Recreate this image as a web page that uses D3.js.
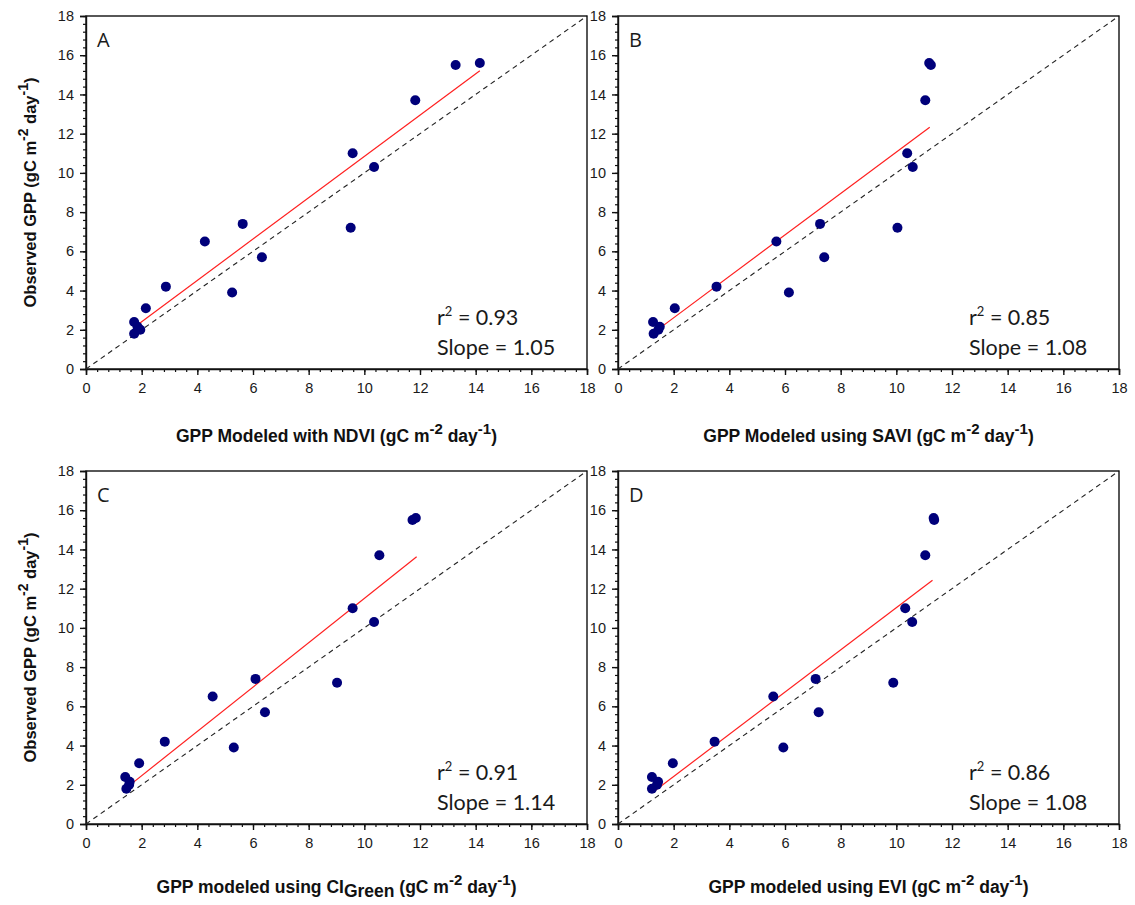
<!DOCTYPE html>
<html>
<head>
<meta charset="utf-8">
<script src="https://cdn.jsdelivr.net/npm/d3@7"></script>
<style>
  html, body { margin: 0; padding: 0; background: #fff; }
  svg { display: block; }
</style>
</head>
<body>
<svg id="chart" width="1135" height="905"></svg>
<script>
// ---------------- DATA ----------------
const observedGPP = [15.6, 15.5, 13.7, 11.0, 10.3, 7.2, 7.4, 6.5, 5.7, 3.9, 4.2, 3.1, 2.4, 2.15, 2.0, 1.8];
const modeledNDVI = [14.15, 13.28, 11.83, 9.58, 10.35, 9.51, 5.63, 4.27, 6.32, 5.25, 2.87, 2.15, 1.73, 1.85, 1.95, 1.73];
const modeledSAVI = [11.18, 11.24, 11.04, 10.39, 10.59, 10.04, 7.26, 5.69, 7.41, 6.14, 3.54, 2.04, 1.26, 1.50, 1.45, 1.28];
const modeledCIGreen = [11.85, 11.73, 10.54, 9.58, 10.35, 9.02, 6.09, 4.55, 6.43, 5.31, 2.83, 1.91, 1.41, 1.57, 1.55, 1.45];
const modeledEVI = [11.34, 11.36, 11.04, 10.32, 10.57, 9.89, 7.10, 5.58, 7.21, 5.94, 3.47, 1.97, 1.22, 1.44, 1.40, 1.22];

// regression line endpoints [x, y] as drawn
const fitNDVI = [[1.77, 2.17], [14.15, 15.21]];
const fitSAVI = [[1.26, 1.83], [11.20, 12.33]];
const fitCIGreen = [[1.44, 1.83], [11.88, 13.63]];
const fitEVI = [[1.30, 1.67], [11.30, 12.43]];

const panelLetters = ["A", "B", "C", "D"];
const r2Values = ["0.93", "0.85", "0.91", "0.86"];
const slopeValues = ["1.05", "1.08", "1.14", "1.08"];
const indexNames = ["NDVI", "SAVI", "CI", "EVI"];
const xTitlePrefixes = ["GPP Modeled with ", "GPP Modeled using ", "GPP modeled using ", "GPP modeled using "];
const axisTicks = [0, 2, 4, 6, 8, 10, 12, 14, 16, 18];
const minorTicks = d3.range(0, 18.001, 0.4);
const oneToOne = [[0, 0], [18, 18]];

// ---------------- LAYOUT ----------------
const svg = d3.select("#chart");
const pw = 501, ph = 353;
const origins = [[86, 16], [618, 16], [86, 471], [618, 471]];
const modeled = [modeledNDVI, modeledSAVI, modeledCIGreen, modeledEVI];
const fits = [fitNDVI, fitSAVI, fitCIGreen, fitEVI];

const tickFont = "'Liberation Sans', Arial, sans-serif";
const textColor = "#1a1a1a";

panelLetters.forEach((letter, i) => {
  const [ox, oy] = origins[i];
  const g = svg.append("g").attr("transform", `translate(${ox},${oy})`);
  const x = d3.scaleLinear().domain([0, 18]).range([0, pw]);
  const y = d3.scaleLinear().domain([0, 18]).range([ph, 0]);

  // frame
  g.append("rect").attr("x", 0).attr("y", 0).attr("width", pw).attr("height", ph)
    .attr("fill", "none").attr("stroke", "#111").attr("stroke-width", 1.4);

  // minor ticks
  const xMinor = d3.axisBottom(x).tickValues(minorTicks).tickSize(3).tickFormat("");
  const yMinor = d3.axisLeft(y).tickValues(minorTicks).tickSize(3).tickFormat("");
  g.append("g").attr("transform", `translate(0,${ph})`).call(xMinor)
    .call(a => a.select(".domain").remove())
    .selectAll("line").attr("stroke", "#111").attr("stroke-width", 1.2);
  g.append("g").call(yMinor)
    .call(a => a.select(".domain").remove())
    .selectAll("line").attr("stroke", "#111").attr("stroke-width", 1.2);

  // major axes
  const xAxis = d3.axisBottom(x).tickValues(axisTicks).tickSize(6).tickPadding(8).tickFormat(d3.format("d"));
  const yAxis = d3.axisLeft(y).tickValues(axisTicks).tickSize(6).tickPadding(6).tickFormat(d3.format("d"));
  const gx = g.append("g").attr("transform", `translate(0,${ph})`).call(xAxis);
  const gy = g.append("g").call(yAxis);
  [gx, gy].forEach(a => {
    a.attr("font-size", 14.5).attr("font-family", tickFont);
    a.select(".domain").attr("stroke", "#111").attr("stroke-width", 1.4);
    a.selectAll("line").attr("stroke", "#111").attr("stroke-width", 1.4);
    a.selectAll("text").attr("font-family", tickFont).attr("font-size", 14.5)
      .attr("fill", textColor);
  });

  // 1:1 dashed line
  const line = d3.line().x(d => x(d[0])).y(d => y(d[1]));
  g.append("path").datum(oneToOne).attr("d", line)
    .attr("fill", "none").attr("stroke", "#222").attr("stroke-width", 1.1)
    .attr("stroke-dasharray", "5,4");

  // regression line
  g.append("path").datum(fits[i]).attr("d", line)
    .attr("fill", "none").attr("stroke", "#ff2020").attr("stroke-width", 1.2);

  // points
  const pts = modeled[i].map((m, k) => [m, observedGPP[k]]);
  g.selectAll("circle.pt").data(pts).enter().append("circle")
    .attr("class", "pt")
    .attr("cx", d => x(d[0])).attr("cy", d => y(d[1]))
    .attr("r", 5).attr("fill", "#00007a");

  // panel letter
  g.append("text").attr("x", 11).attr("y", 31).text(letter)
    .attr("font-family", "'Open Sans', sans-serif").attr("font-size", 20).attr("fill", textColor);

  // stats
  const st = g.append("text").attr("x", 351).attr("y", 309)
    .attr("font-family", "Lato, 'Open Sans', sans-serif").attr("font-size", 21.5).attr("fill", textColor);
  st.append("tspan").text("r");
  st.append("tspan").text("2").attr("font-size", 13).attr("dy", -9);
  st.append("tspan").text(" = " + r2Values[i]).attr("dy", 9);
  g.append("text").attr("x", 351).attr("y", 339)
    .attr("font-family", "Lato, 'Open Sans', sans-serif").attr("font-size", 21.5).attr("fill", textColor)
    .text("Slope = " + slopeValues[i]);

  // x title
  const titleY = i < 2 ? ph + 73 : ph + 69;
  const xt = g.append("text").attr("x", pw / 2).attr("y", titleY).attr("text-anchor", "middle")
    .attr("font-family", tickFont).attr("font-weight", "bold").attr("font-size", 17.5).attr("fill", "#111");
  xt.append("tspan").text(xTitlePrefixes[i] + indexNames[i]);
  if (indexNames[i] === "CI") {
    xt.append("tspan").text("Green").attr("dy", 4);
    xt.append("tspan").text(" (gC m").attr("dy", -4);
  } else {
    xt.append("tspan").text(" (gC m");
  }
  xt.append("tspan").text("-2").attr("dy", -8).attr("font-size", 15);
  xt.append("tspan").text(" day").attr("dy", 8);
  xt.append("tspan").text("-1").attr("dy", -8).attr("font-size", 15);
  xt.append("tspan").text(")").attr("dy", 8);

  // y title (left panels only)
  if (i % 2 === 0) {
    const yt = g.append("text")
      .attr("transform", `translate(${-50},${ph / 2}) rotate(-90)`)
      .attr("text-anchor", "middle")
      .attr("font-family", tickFont).attr("font-weight", "bold").attr("font-size", 16.5).attr("fill", "#111");
    yt.append("tspan").text("Observed GPP (gC m");
    yt.append("tspan").text("-2").attr("dy", -8).attr("font-size", 14);
    yt.append("tspan").text(" day").attr("dy", 8);
    yt.append("tspan").text("-1").attr("dy", -8).attr("font-size", 14);
    yt.append("tspan").text(")").attr("dy", 8);
  }
});
</script>
</body>
</html>
